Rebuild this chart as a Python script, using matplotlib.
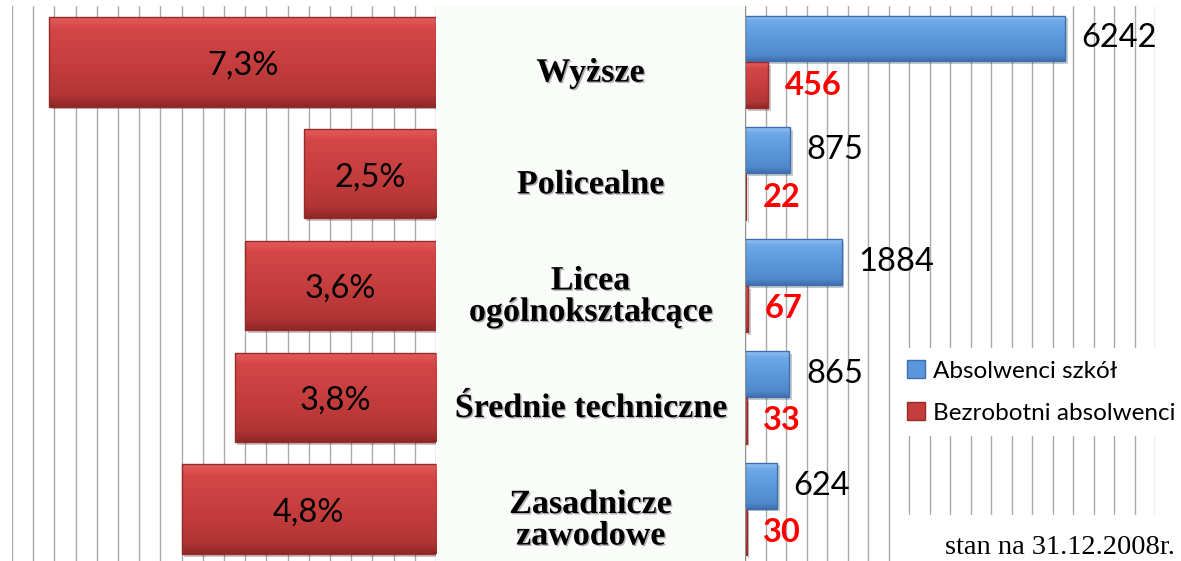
import matplotlib
matplotlib.use("Agg")
import numpy as np
from matplotlib import pyplot as plt
from matplotlib.patches import Patch, Rectangle
from matplotlib.colors import LinearSegmentedColormap
import matplotlib.patheffects as pe

# dane
kategorie = ["Wyższe", "Policealne", "Licea\nogólnokształcące",
             "Średnie techniczne", "Zasadnicze\nzawodowe"]
procent = [7.3, 2.5, 3.6, 3.8, 4.8]
procent_txt = ["7,3%", "2,5%", "3,6%", "3,8%", "4,8%"]
absolwenci = [6242, 875, 1884, 865, 624]
bezrobotni = [456, 22, 67, 33, 30]
legenda = ["Absolwenci szkół", "Bezrobotni absolwenci"]
przypis = "stan na 31.12.2008r."

RED = "#C43C3C"
RED_EDGE = "#962B2B"
RED_GRAD = ["#E45C5C", "#D44646", "#C63E3E", "#B33535", "#8E2828"]
BLUE = "#5B97DC"
BLUE_EDGE = "#3D6FAE"
BLUE_GRAD = ["#93C4F2", "#6EA8E8", "#5C98DC", "#5089CD", "#3F70AE"]
GRID = "#ABABAB"
SANS = ["Lato", "DejaVu Sans"]
SERIF = ["Liberation Serif", "DejaVu Serif"]

W, H = 1181, 561
fig = plt.figure(figsize=(W / 100, H / 100), dpi=100)
fig.patch.set_facecolor("white")

y = np.arange(len(kategorie))
shadow = [pe.SimplePatchShadow(offset=(2, -2), alpha=0.25), pe.Normal()]


def bevel(ax, bar, stops, edge):
    # pionowy gradient w obrysie słupka (imitacja efektu z Excela)
    x0, y0 = bar.get_x(), bar.get_y()
    w, h = bar.get_width(), bar.get_height()
    if w <= 0:
        return
    cmap = LinearSegmentedColormap.from_list("b", list(zip([0, 0.13, 0.5, 0.87, 1], stops)))
    grad = np.linspace(0, 1, 64).reshape(-1, 1)
    im = ax.imshow(grad, cmap=cmap, aspect="auto", origin="upper",
                   extent=(x0, x0 + w, y0 + h, y0), zorder=2.1)
    im.set_clip_path(bar)
    ax.add_patch(Rectangle((x0, y0), w, h, fill=False, edgecolor=edge, lw=1.0, zorder=2.2))


def style_axes(ax):
    ax.tick_params(length=0, labelbottom=False, labelleft=False)
    for s in ax.spines.values():
        s.set_visible(False)


# lewy panel - procenty
ax_l = fig.add_axes([12 / W, -4 / H, 424 / W, 559 / H])
ax_l.set_xticks(np.arange(0, 8.01, 0.4))
ax_l.grid(axis="x", color=GRID, lw=1)
ax_l.set_axisbelow(True)
style_axes(ax_l)
bars = ax_l.barh(y, procent, height=0.8, color=RED, edgecolor="none", zorder=2)
for b in bars:
    b.set_path_effects(shadow)
    bevel(ax_l, b, RED_GRAD, RED_EDGE)
for i, t in enumerate(procent_txt):
    ax_l.text(procent[i] / 2, y[i] + 0.03, t, ha="center", va="center",
              fontsize=23.5, family=SANS, color="black", zorder=3)
ax_l.set_xlim(8, 0)
ax_l.set_ylim(4.5, -0.5)

# środkowy panel - nazwy
ax_m = fig.add_axes([437 / W, -4 / H, 307 / W, 559 / H])
ax_m.set_facecolor("#FAFCFA")
ax_m.set_xlim(0, 1)
ax_m.set_ylim(4.5, -0.5)
ax_m.set_xticks([])
ax_m.set_yticks([])
for s in ax_m.spines.values():
    s.set_visible(False)
for i, k in enumerate(kategorie):
    ax_m.text(0.5, y[i] + 0.1, k, ha="center", va="center", fontsize=24.5,
              family=SERIF, fontweight="bold", linespacing=1.02,
              path_effects=[pe.withSimplePatchShadow(offset=(1, -1), alpha=0.3)])

# prawy panel - liczby
ax_r = fig.add_axes([745 / W, -4 / H, 410 / W, 559 / H])
ax_r.set_xticks(np.arange(0, 8001, 400))
ax_r.grid(axis="x", color=GRID, lw=1)
ax_r.set_axisbelow(True)
style_axes(ax_r)
ax_r.spines["left"].set_visible(True)
ax_r.spines["left"].set_color("#909090")
b1 = ax_r.barh(y - 0.21, absolwenci, height=0.41, color=BLUE, edgecolor="none", zorder=2)
b2 = ax_r.barh(y + 0.21, bezrobotni, height=0.41, color=RED, edgecolor="none", zorder=2)
for b in b1:
    b.set_path_effects(shadow)
    bevel(ax_r, b, BLUE_GRAD, BLUE_EDGE)
for b in b2:
    b.set_path_effects(shadow)
    bevel(ax_r, b, RED_GRAD, RED_EDGE)
for i in range(len(kategorie)):
    ax_r.annotate(str(absolwenci[i]), (absolwenci[i], y[i] - 0.21),
                  xytext=(12, 0), textcoords="offset points", ha="left", va="center",
                  fontsize=23.5, family=SANS, color="black")
    ax_r.annotate(str(bezrobotni[i]), (bezrobotni[i], y[i] + 0.21),
                  xytext=(12, 0), textcoords="offset points", ha="left", va="center",
                  fontsize=23.5, family=SANS, fontweight="bold", color="#FF0000")
ax_r.set_xlim(0, 8000)
ax_r.set_ylim(4.5, -0.5)

# legenda
uchwyty = [Patch(facecolor=BLUE, edgecolor=BLUE_EDGE),
           Patch(facecolor=RED, edgecolor=RED_EDGE)]
leg = fig.legend(uchwyty, legenda, loc="upper left",
                 bbox_to_anchor=(895 / W, 1 - 348 / H), frameon=True,
                 facecolor="white", edgecolor="none", framealpha=1, fancybox=False,
                 handlelength=0.75, handleheight=0.75, handletextpad=0.3,
                 labelspacing=0.85, borderpad=0.5, borderaxespad=0,
                 prop={"family": SANS, "size": 17.5})

# przypis
fig.patches.append(Rectangle((898 / W, 0), 1 - 898 / W, 46 / H, transform=fig.transFigure,
                             facecolor="white", edgecolor="none", zorder=2))
fig.text(1175 / W, 1 - 547 / H, przypis, ha="right", va="center",
         fontsize=20.5, family=SERIF, zorder=3)

fig.savefig("out.png", dpi=100)
